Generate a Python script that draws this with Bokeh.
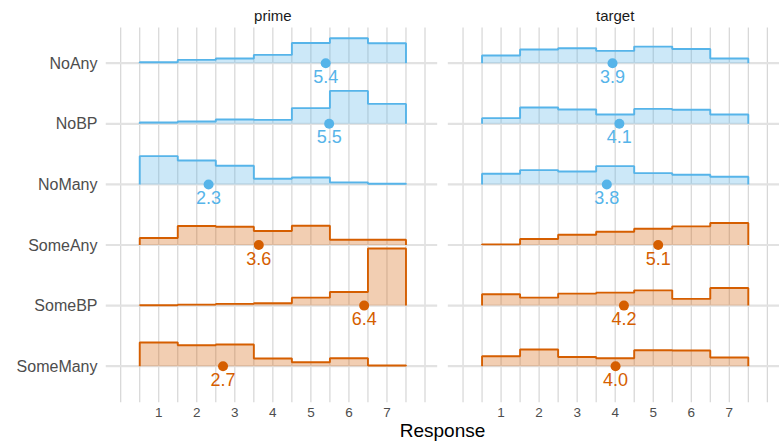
import numpy as np
from bokeh.plotting import figure
from bokeh.models import Range1d, FixedTicker, ColumnDataSource
from bokeh.embed import file_html
from bokeh.resources import INLINE
from bokeh.core.properties import value

# ---------------- data ----------------
categories = ["NoAny", "NoBP", "NoMany", "SomeAny", "SomeBP", "SomeMany"]
groups = ["No", "No", "No", "Some", "Some", "Some"]
responses = [1, 2, 3, 4, 5, 6, 7]
panels = ["prime", "target"]

# percent of responses per category (1..7)
prime_NoAny = [1.2, 3.9, 5.5, 9.8, 23.9, 29.4, 23.5]
prime_NoBP = [1.5, 2.7, 5.1, 4.7, 18.5, 38.8, 23.5]
prime_NoMany = [33.3, 28.2, 22.0, 6.7, 8.2, 2.4, 0.8]
prime_SomeAny = [8.2, 22.4, 21.5, 16.5, 22.7, 6.2, 6.2]
prime_SomeBP = [0.4, 1.2, 2.0, 2.7, 9.4, 16.1, 67.4]
prime_SomeMany = [27.9, 24.7, 25.5, 9.1, 4.7, 9.4, 0.8]

target_NoAny = [9.1, 16.1, 17.6, 14.5, 19.6, 16.8, 5.5]
target_NoBP = [6.7, 19.2, 16.8, 10.9, 17.6, 16.5, 10.9]
target_NoMany = [12.6, 16.8, 15.3, 21.5, 13.3, 11.4, 9.1]
target_SomeAny = [0.8, 7.1, 12.1, 15.6, 19.2, 22.0, 25.9]
target_SomeBP = [13.3, 9.4, 14.1, 15.3, 18.0, 7.9, 20.8]
target_SomeMany = [11.8, 19.6, 10.9, 9.4, 18.8, 18.5, 10.2]

prime_means = [5.39, 5.48, 2.31, 3.63, 6.40, 2.69]
target_means = [3.93, 4.11, 3.78, 5.13, 4.23, 4.01]

prime_pct = [prime_NoAny, prime_NoBP, prime_NoMany, prime_SomeAny, prime_SomeBP, prime_SomeMany]
target_pct = [target_NoAny, target_NoBP, target_NoMany, target_SomeAny, target_SomeBP, target_SomeMany]

# ---------------- style ----------------
COLORS = {"No": "#56B4E9", "Some": "#D55E00"}
FONT = "Liberation Sans"
X_LO, X_HI = -0.40, 8.32
SHIFT = 9.0                      # x offset of the second facet
Y_LO, Y_HI = 0.401, 6.589        # panel extent
Y_TOP = 7.035                    # room for the facet strip text
SCALE = 1.40                     # ridge height (row units) for 100 %

n = len(categories)
ypos = [n - i for i in range(n)]

p = figure(width=779, height=446, title=None,
           x_range=Range1d(X_LO, SHIFT + X_HI), y_range=Range1d(Y_LO, Y_TOP),
           output_backend="svg", toolbar_location=None,
           min_border_left=105, min_border_right=0, min_border_top=0, min_border_bottom=44)
p.grid.visible = False
p.outline_line_color = None
p.background_fill_color = "white"

# ---------------- grid lines ----------------
vx = np.arange(0, 8.01, 0.5)
gx = np.concatenate([vx, vx + SHIFT])
p.segment(x0=gx, y0=Y_LO, x1=gx, y1=Y_HI, line_color="#d2d2d2", line_width=1.1)
for k in range(len(panels)):
    off = k * SHIFT
    p.segment(x0=[X_LO + off] * n, y0=ypos, x1=[X_HI + off] * n, y1=ypos,
              line_color="#e2e2e2", line_width=2.2)

# ---------------- ridges ----------------
edges = np.arange(len(responses) + 1) + 0.5
xs_step = np.repeat(edges, 2)
for k, (pcts, means) in enumerate([(prime_pct, prime_means), (target_pct, target_means)]):
    off = k * SHIFT
    for i in range(n):
        base = ypos[i]
        h = np.array(pcts[i]) / 100.0 * SCALE
        ys = np.concatenate([[0], np.repeat(h, 2), [0]])
        col = COLORS[groups[i]]
        p.varea(x=xs_step + off, y1=np.full(len(ys), base), y2=base + ys,
                fill_color=col, fill_alpha=0.3)
        p.line(x=xs_step + off, y=base + ys, line_color=col, line_width=1.9)

    src = ColumnDataSource(dict(
        x=[m + off for m in means], y=ypos,
        lab=[f"{m:.1f}" for m in means],
        col=[COLORS[g] for g in groups]))
    p.scatter(x="x", y="y", source=src, size=10, color="col", line_color=None)
    p.text(x="x", y="y", text="lab", source=src, text_color="col",
           text_font=value(FONT), text_font_size="18px", text_align="center",
           text_baseline="middle", y_offset=13)

# facet strip titles
p.text(x=[4 + k * SHIFT for k in range(len(panels))], y=[Y_HI] * len(panels), text=panels,
       text_align="center", text_baseline="middle", y_offset=-12,
       text_font=value(FONT), text_font_size="15px", text_color="#1a1a1a")

# ---------------- axes ----------------
xt = [r for r in responses] + [r + SHIFT for r in responses]
p.xaxis.ticker = FixedTicker(ticks=xt)
p.xaxis.major_label_overrides = {t: str(r) for t, r in zip(xt, responses * 2)}
p.xaxis.axis_label = "Response"
p.xaxis.axis_label_text_font = FONT
p.xaxis.axis_label_text_font_size = "19px"
p.xaxis.axis_label_text_font_style = "normal"
p.xaxis.axis_label_text_color = "black"
p.xaxis.axis_label_standoff = 0
p.yaxis.ticker = FixedTicker(ticks=ypos)
p.yaxis.major_label_overrides = {y: c for y, c in zip(ypos, categories)}
for ax in (p.xaxis, p.yaxis):
    ax.axis_line_color = None
    ax.major_tick_line_color = None
    ax.minor_tick_line_color = None
    ax.major_tick_out = 0
    ax.major_tick_in = 0
    ax.major_label_text_font = FONT
    ax.major_label_text_color = "#4d4d4d"
p.xaxis.major_label_text_font_size = "13.5px"
p.xaxis.major_label_standoff = 5
p.yaxis.major_label_text_font_size = "16px"
p.yaxis.major_label_standoff = 8

open("out.html", "w").write(file_html(p, INLINE))
